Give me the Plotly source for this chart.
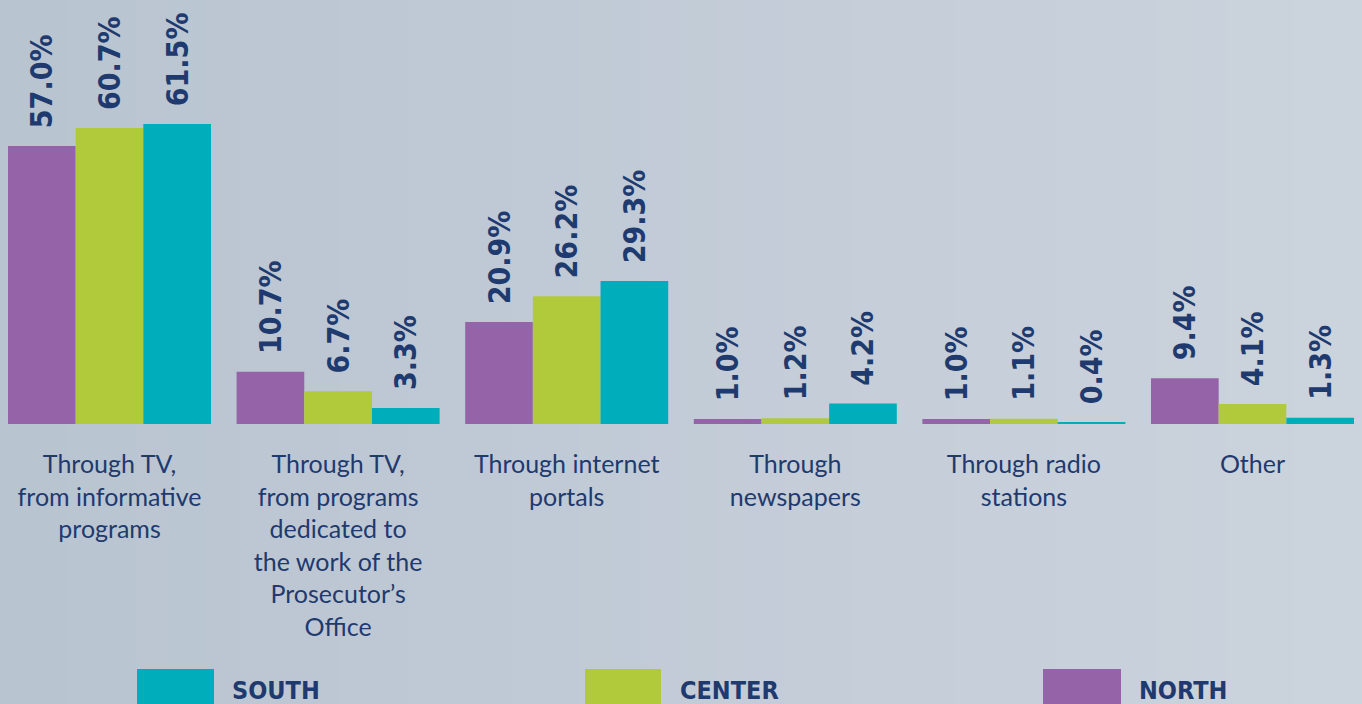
import plotly.graph_objects as go

# Survey: how respondents learned about the Prosecutor's Office, by region
categories = [
    "Through TV,<br>from informative<br>programs",
    "Through TV,<br>from programs<br>dedicated to<br>the work of the<br>Prosecutor’s<br>Office",
    "Through internet<br>portals",
    "Through<br>newspapers",
    "Through radio<br>stations",
    "Other",
]
north = [57.0, 10.7, 20.9, 1.0, 1.0, 9.4]
center = [60.7, 6.7, 26.2, 1.2, 1.1, 4.1]
south = [61.5, 3.3, 29.3, 4.2, 0.4, 1.3]

series_names = ["NORTH", "CENTER", "SOUTH"]
series_colors = ["#9563a7", "#b0ca3b", "#00adbb"]
series_values = [north, center, south]

W, H = 1362, 704
PLOT_H = 424  # pixel height of the plotting area (baseline row)
NAVY = "#1e3a6e"
BOLD_FONT = "Liberation Sans Narrow, DejaVu Sans Condensed, Arial Narrow, sans-serif"

fig = go.Figure()
for name, color, vals in zip(series_names, series_colors, series_values):
    fig.add_trace(go.Bar(
        x=list(range(len(categories))),
        y=vals,
        name=name,
        marker=dict(color=color, line=dict(width=0)),
        text=vals,
        texttemplate="\u00a0\u2009%{y:.1f}%",
        textposition="outside",
        textangle=-90,
        constraintext="none",
        cliponaxis=False,
        textfont=dict(family=BOLD_FONT, size=30, color=NAVY, weight="bold"),
        hoverinfo="skip",
    ))

# soft horizontal background gradient
left_rgb = (185, 196, 209)
right_rgb = (203, 211, 221)
n_strips = 40
shapes = []
y_bottom = (PLOT_H - H) / PLOT_H
for i in range(n_strips):
    t = i / (n_strips - 1)
    c = tuple(round(a + (b - a) * t) for a, b in zip(left_rgb, right_rgb))
    shapes.append(dict(
        type="rect", xref="paper", yref="paper",
        x0=i / n_strips, x1=(i + 1) / n_strips + 0.002,
        y0=y_bottom - 0.05, y1=1.05,
        fillcolor="rgb(%d,%d,%d)" % c, line=dict(width=0), layer="below",
    ))

# legend row along the bottom edge
legend_items = [  # (series index, swatch left px, swatch right px, text left px)
    (2, 137, 214, 230),
    (1, 585, 661, 678),
    (0, 1043, 1121, 1137),
]
annotations = []
for idx, sx0, sx1, tx in legend_items:
    shapes.append(dict(
        type="rect", xref="paper", yref="paper",
        x0=sx0 / W, x1=sx1 / W,
        y0=(PLOT_H - 712) / PLOT_H, y1=(PLOT_H - 669) / PLOT_H,
        fillcolor=series_colors[idx], line=dict(width=0), layer="above",
    ))
    annotations.append(dict(
        xref="paper", yref="paper", x=tx / W, y=(PLOT_H - 690) / PLOT_H,
        xanchor="left", yanchor="middle", showarrow=False,
        text="<b>%s</b>" % series_names[idx],
        font=dict(family=BOLD_FONT, size=25, color=NAVY),
    ))

fig.update_layout(
    width=W, height=H,
    margin=dict(l=0, r=0, t=0, b=H - PLOT_H, pad=0),
    barmode="group", bargap=0.112, bargroupgap=0,
    showlegend=False,
    paper_bgcolor="rgb(194,203,215)",
    plot_bgcolor="rgba(0,0,0,0)",
    shapes=shapes,
    annotations=annotations,
    xaxis=dict(
        range=[-0.479, 5.479],
        tickmode="array",
        tickvals=list(range(len(categories))),
        ticktext=categories,
        tickfont=dict(family="Lato, Noto Sans, sans-serif", size=25, color=NAVY),
        ticks="", showline=False, showgrid=False, zeroline=False,
        ticklabelstandoff=23,
    ),
    yaxis=dict(
        range=[0, PLOT_H / 4.878],
        visible=False, showgrid=False, zeroline=False,
    ),
)

fig.write_html("out.html")
